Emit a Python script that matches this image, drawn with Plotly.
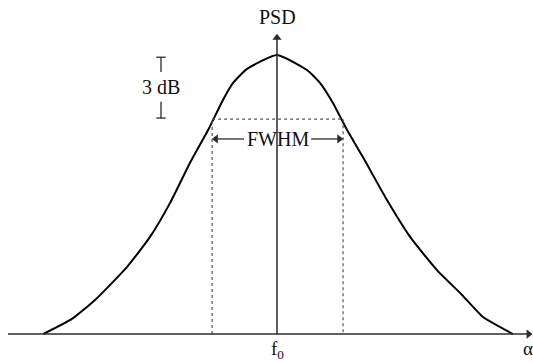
import plotly.graph_objects as go

# Power spectral density sketch, normalised to the peak value at f0
curve_freq = [-0.99, -0.869, -0.771, -0.636, -0.538, -0.453, -0.369, -0.292,
              -0.229, -0.186, -0.127, 0.0, 0.127, 0.182, 0.237, 0.297,
              0.364, 0.466, 0.564, 0.678, 0.784, 0.873, 1.0]
curve_psd = [0.0, 0.054, 0.122, 0.240, 0.348, 0.470, 0.613, 0.731,
             0.839, 0.900, 0.950, 1.0, 0.946, 0.900, 0.828, 0.731,
             0.634, 0.480, 0.348, 0.229, 0.140, 0.061, 0.0]

f0 = 0.0
peak_level = 1.0
half_level = 0.77
fwhm_low = -0.275
fwhm_high = 0.28

axis_labels = {"y": "PSD", "x": "\u03b1", "center": "f<sub>0</sub>"}
width_label = "FWHM"
drop_label = "3 dB"

X_RANGE = [-1.1737, 1.0847]
Y_RANGE = [-0.1039, 1.1971]
FONT = "Liberation Serif, Times New Roman, serif"
AXIS_COLOR = "#2b2b2b"
DOT_COLOR = "#555555"

fig = go.Figure()


def lines(xs, ys, color=AXIS_COLOR, width=1.4, dash="solid"):
    fig.add_trace(go.Scatter(
        x=xs, y=ys, mode="lines",
        line=dict(color=color, width=width, dash=dash),
        hoverinfo="skip", showlegend=False,
    ))


def heads(xs, ys, symbols, size=9):
    fig.add_trace(go.Scatter(
        x=xs, y=ys, mode="markers",
        marker=dict(symbol=symbols, size=size, color=AXIS_COLOR, line=dict(width=0)),
        hoverinfo="skip", showlegend=False,
    ))


# the spectrum
fig.add_trace(go.Scatter(
    x=curve_freq, y=curve_psd, mode="lines",
    line=dict(color="black", width=2, shape="spline", smoothing=0.5),
    hoverinfo="skip", showlegend=False,
))

# half-power level and the two FWHM boundaries
lines([fwhm_low, fwhm_low, None, fwhm_low, fwhm_high, None, fwhm_high, fwhm_high],
      [0, half_level, None, half_level, half_level, None, half_level, 0],
      color=DOT_COLOR, width=1.2, dash="dot")

# 3 dB marker bars
bar_x = -0.4915
tick = 0.02
top = peak_level - 0.008
bottom = half_level + 0.004
lines([bar_x - tick, bar_x + tick, None, bar_x, bar_x, None,
       bar_x, bar_x, None, bar_x - tick, bar_x + tick],
      [top, top, None, top, 0.939, None, 0.832, bottom, None, bottom, bottom],
      width=1.3)

# axes
lines([f0, f0], [0, 1.06], width=1.5)
lines([-1.14, 1.065], [0, 0], width=1.5)
heads([f0], [1.062], "triangle-up", size=8)
heads([1.066], [0], "triangle-right", size=8)

# FWHM arrows
fwhm_y = 0.699
lines([-0.14, fwhm_low + 0.02, None, 0.145, fwhm_high - 0.02],
      [fwhm_y, fwhm_y, None, fwhm_y, fwhm_y], width=1.3)
heads([fwhm_low + 0.016, fwhm_high - 0.016], [fwhm_y, fwhm_y],
      ["triangle-left", "triangle-right"], size=8)

text_font = dict(family=FONT, size=20, color="#111111")
fig.add_annotation(x=f0, y=1.136, text=axis_labels["y"], showarrow=False, font=text_font)
fig.add_annotation(x=f0, y=-0.008, yanchor="top", text=axis_labels["center"],
                   showarrow=False, font=dict(family=FONT, size=19, color="#111111"))
fig.add_annotation(x=1.062, y=-0.008, yanchor="top", text=axis_labels["x"],
                   showarrow=False, font=dict(family=FONT, size=19, color="#111111"))
fig.add_annotation(x=(fwhm_low + fwhm_high) / 2, y=fwhm_y, text=width_label,
                   showarrow=False, font=text_font)
fig.add_annotation(x=-0.49, y=0.885, text=drop_label, showarrow=False, font=text_font)

fig.update_layout(
    width=533, height=363,
    margin=dict(l=0, r=0, t=0, b=0),
    paper_bgcolor="white", plot_bgcolor="white",
    xaxis=dict(range=X_RANGE, visible=False, fixedrange=True),
    yaxis=dict(range=Y_RANGE, visible=False, fixedrange=True),
    showlegend=False,
)

fig.write_html("out.html")
